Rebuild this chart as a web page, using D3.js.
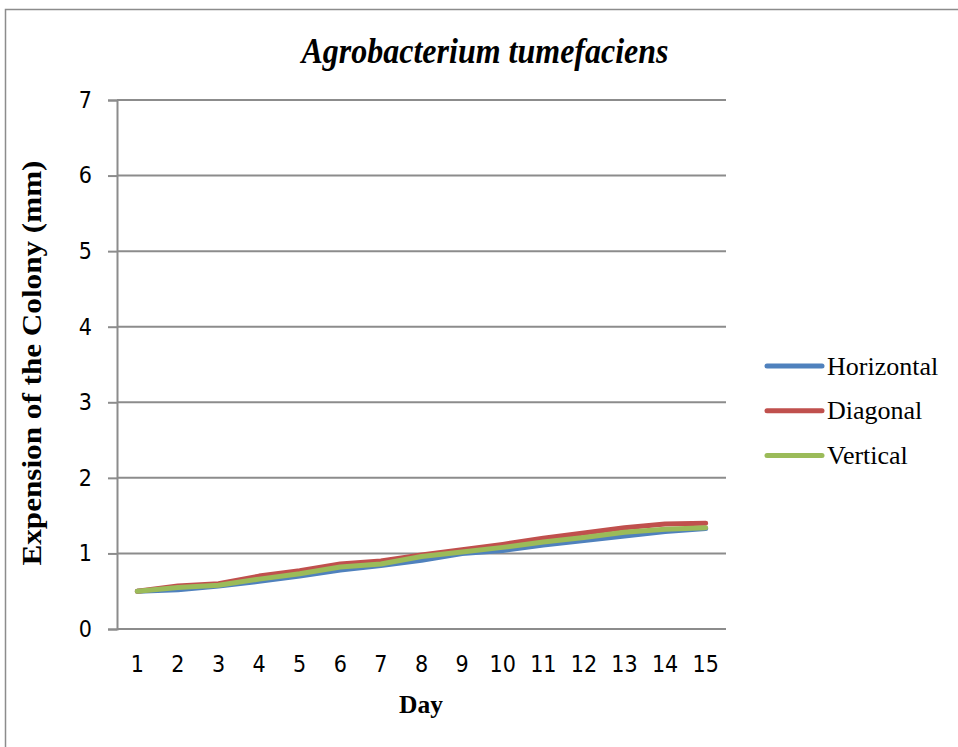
<!DOCTYPE html>
<html>
<head>
<meta charset="utf-8">
<script src="https://cdn.jsdelivr.net/npm/d3@7"></script>
<style>
  html, body { margin: 0; padding: 0; background: #fff; }
  svg { display: block; }
</style>
</head>
<body>
<svg id="chart" width="958" height="747"></svg>
<script>
// Colony expansion of Agrobacterium tumefaciens per day, by direction
const days = [1, 2, 3, 4, 5, 6, 7, 8, 9, 10, 11, 12, 13, 14, 15];
const horizontal = [0.50, 0.52, 0.57, 0.63, 0.70, 0.78, 0.84, 0.91, 1.00, 1.04, 1.11, 1.17, 1.23, 1.29, 1.33];
const diagonal   = [0.50, 0.57, 0.60, 0.70, 0.77, 0.86, 0.90, 0.98, 1.05, 1.12, 1.20, 1.27, 1.34, 1.39, 1.40];
const vertical   = [0.50, 0.55, 0.58, 0.66, 0.73, 0.82, 0.86, 0.96, 1.02, 1.08, 1.15, 1.21, 1.28, 1.32, 1.34];
const seriesNames = ["Horizontal", "Diagonal", "Vertical"];
const seriesColors = ["#4F81BD", "#C0504D", "#9BBB59"];
const yTicks = [0, 1, 2, 3, 4, 5, 6, 7];

const series = [horizontal, diagonal, vertical].map((vals, i) => ({
  name: seriesNames[i], color: seriesColors[i], values: vals
}));

const svg = d3.select("#chart");
const serif = "'Liberation Serif', 'Times New Roman', serif";
const sans = "'DejaVu Sans Condensed', 'Liberation Sans', sans-serif";
const grey = "#8c8c8c";

// outer chart frame (left and top edges visible)
svg.append("path")
  .attr("d", "M5.5,747 L5.5,9.5 L958,9.5")
  .attr("fill", "none").attr("stroke", grey).attr("stroke-width", 1.5);

const plot = { left: 117, right: 726, top: 100, bottom: 629 };

const x = d3.scaleBand().domain(days).range([plot.left, plot.right]);
const y = d3.scaleLinear().domain([0, 7]).range([plot.bottom, plot.top]);

// gridlines
svg.append("g").selectAll("line").data(yTicks).join("line")
  .attr("x1", plot.left).attr("x2", plot.right)
  .attr("y1", d => y(d)).attr("y2", d => y(d))
  .attr("stroke", grey).attr("stroke-width", 2);

// y axis
const yAxis = d3.axisLeft(y).tickValues(yTicks).tickSize(9).tickPadding(16)
  .tickFormat(d3.format("d"));
const gy = svg.append("g").attr("transform", `translate(${plot.left},0)`).call(yAxis);
gy.select(".domain").attr("stroke", grey).attr("stroke-width", 2);
gy.selectAll(".tick line").attr("stroke", grey).attr("stroke-width", 2);
gy.selectAll(".tick text").attr("font-family", sans).attr("font-size", 23).attr("fill", "#000");

// x axis labels (no tick marks)
const xAxis = d3.axisBottom(x).tickSize(0).tickPadding(27);
const gx = svg.append("g").attr("transform", `translate(0,${plot.bottom})`).call(xAxis);
gx.select(".domain").remove();
gx.selectAll(".tick text").attr("font-family", sans).attr("font-size", 23).attr("fill", "#000");

// series lines
const line = d3.line()
  .x((d, i) => x(days[i]) + x.bandwidth() / 2)
  .y(d => y(d));

svg.append("g").selectAll("path").data(series).join("path")
  .attr("d", d => line(d.values))
  .attr("fill", "none")
  .attr("stroke", d => d.color)
  .attr("stroke-width", 5)
  .attr("stroke-linejoin", "round")
  .attr("stroke-linecap", "round");

// title
svg.append("text")
  .attr("transform", "translate(485,63) scale(1,1.12)")
  .attr("text-anchor", "middle")
  .attr("font-family", serif).attr("font-size", 32)
  .attr("font-style", "italic").attr("font-weight", "bold")
  .text("Agrobacterium tumefaciens");

// axis titles
svg.append("text")
  .attr("x", 421).attr("y", 713)
  .attr("text-anchor", "middle")
  .attr("font-family", serif).attr("font-size", 25.5).attr("font-weight", "bold")
  .text("Day");

svg.append("text")
  .attr("transform", "translate(41,363) rotate(-90)")
  .attr("text-anchor", "middle")
  .attr("font-family", serif).attr("font-size", 28).attr("font-weight", "bold")
  .attr("textLength", 405).attr("lengthAdjust", "spacingAndGlyphs")
  .text("Expension of the Colony (mm)");

// legend
const legend = svg.append("g").selectAll("g").data(series).join("g")
  .attr("transform", (d, i) => `translate(767,${366 + i * 44.8})`);
legend.append("line")
  .attr("x1", 0).attr("x2", 55).attr("y1", 0).attr("y2", 0)
  .attr("stroke", d => d.color).attr("stroke-width", 5)
  .attr("stroke-linecap", "round");
legend.append("text")
  .attr("x", 60).attr("y", 8.5)
  .attr("font-family", serif).attr("font-size", 26)
  .text(d => d.name);
</script>
</body>
</html>
